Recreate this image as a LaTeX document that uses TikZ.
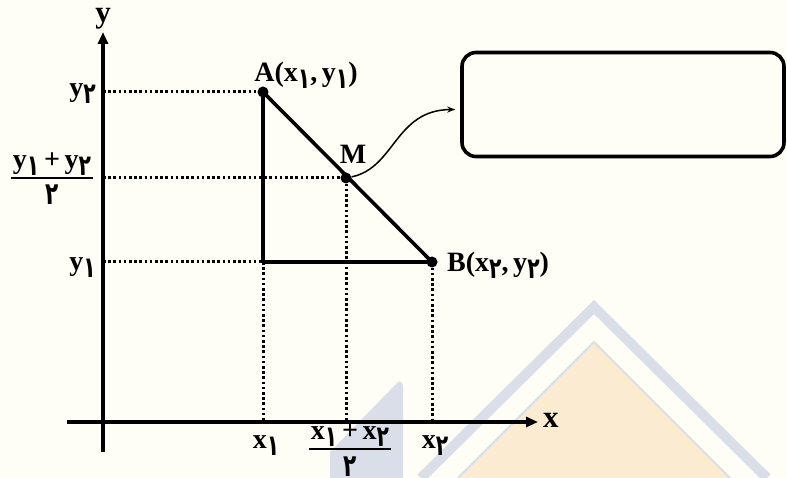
\documentclass[tikz,border=0pt]{standalone}
\usepackage{fontspec}
\setmainfont{Liberation Serif}
\newfontfamily\fa[Script=Arabic, FakeStretch=0.7]{DejaVu Sans}
\usetikzlibrary{arrows.meta}
\definecolor{cream}{RGB}{254,254,246}
\definecolor{wmblue}{RGB}{217,222,232}
\definecolor{wmorange}{RGB}{251,235,208}
\newcommand\sd[1]{\raisebox{-7pt}{\fontsize{29}{30}\selectfont\fa\bfseries #1}}
\newcommand\dg[1]{\raisebox{0pt}[\height][0pt]{\fontsize{31}{32}\selectfont\fa\bfseries #1}}
\newcommand\myfrac[2]{%
  \setbox0=\hbox{#1}\setbox2=\hbox{#2}%
  \ifdim\wd0>\wd2 \dimen0=\wd0 \else \dimen0=\wd2 \fi
  \advance\dimen0 by 4pt
  \vtop{\vbox{\hbox to\dimen0{\hss\box0\hss}\kern2pt\hrule height 1.8pt}\kern-4pt\hbox to\dimen0{\hss\box2\hss}}}
\tikzset{
  lbl/.style={font=\fontsize{28}{30}\selectfont\bfseries, inner sep=0pt},
  axlbl/.style={font=\fontsize{31}{33}\selectfont\bfseries, inner sep=0pt},
  dotpt/.style={circle, fill=black, inner sep=0pt, minimum size=11pt},
  axisline/.style={line width=3.6pt, -{Triangle[length=12pt,width=10pt]}},
  solidline/.style={line width=3.6pt, line join=round},
  dotline/.style={line width=3pt, dash pattern=on 2.6pt off 2.6pt},
  infobox/.style={draw, line width=3.6pt, rounded corners=14pt, minimum width=322pt, minimum height=104pt, inner sep=0pt},
}
\begin{document}
\begin{tikzpicture}[x=1pt,y=-1pt]
\useasboundingbox (0,0) rectangle (787,478);
% background and faint watermark
\fill[cream] (0,0) rectangle (787,478);
\fill[wmorange] (594,342) -- (458,478) -- (730,478) -- cycle;
\draw[wmblue, line width=2pt] (458,478) -- (594,342) -- (730,478);
\draw[wmblue, line width=10pt] (421,478) -- (594,307) -- (767,478);
\fill[wmblue] (330,478) -- (330,452) -- (398,382) to[out=45,in=90] (403,386) -- (403,478) -- cycle;
% axes
\coordinate (O) at (103,422);
\coordinate (yb) at (103,452);
\coordinate (yt) at (103,32);
\coordinate (xl) at (67,422);
\coordinate (xr) at (538,422);
\draw[axisline] (yb) -- (yt);
\draw[axisline] (xl) -- (xr);
\node[axlbl, anchor=base] (ylab) at (103,23) {y};
\node[axlbl, anchor=base west] (xlab) at (543,427) {x};
% points
\node[dotpt] (A) at (263,92) {};
\node[dotpt] (M) at (346,178) {};
\node[dotpt] (B) at (432,262) {};
\coordinate (C) at (263,262);
% guide lines
\draw[dotline] (A -| O) -- (A);
\draw[dotline] (M -| O) -- (M);
\draw[dotline] (C -| O) -- (C);
\draw[dotline] (C) -- (C |- O);
\draw[dotline] (M) -- (M |- O);
\draw[dotline] (B) -- (B |- O);
% triangle
\draw[solidline] (A.center) -- (C) -- (B.center);
\draw[solidline] (A.center) -- (B.center);
% point labels
\node[lbl, anchor=base] (Alab) at (306,82) {A(x\sd{١},\,y\sd{١})};
\node[lbl, anchor=base] (Mlab) at (353,164) {M};
\node[lbl, anchor=base west] (Blab) at (447,272) {B(x\sd{٢},\,y\sd{٢})};
% axis tick labels
\node[lbl, anchor=base east] (y2lab) at (96,97) {y\sd{٢}};
\node[lbl, anchor=base] (ymid) at (52,179) {\myfrac{y\sd{١}\,+\,y\sd{٢}}{\dg{٢}}};
\node[lbl, anchor=base east] (y1lab) at (96,271) {y\sd{١}};
\node[lbl, anchor=base] (x1lab) at (266,448) {x\sd{١}};
\node[lbl, anchor=base] (xmid) at (350,450) {\myfrac{x\sd{١}\,+\,x\sd{٢}}{\dg{٢}}};
\node[lbl, anchor=base] (x2lab) at (435,448) {x\sd{٢}};
% info box and curved arrow
\node[infobox] (box) at (623,104.5) {};
\draw[line width=1.5pt, -{Stealth[length=8pt,width=6pt]}] (M) .. controls (395,168) and (395,110) .. ([xshift=-5pt,yshift=-5pt]box.west);
\end{tikzpicture}
\end{document}
